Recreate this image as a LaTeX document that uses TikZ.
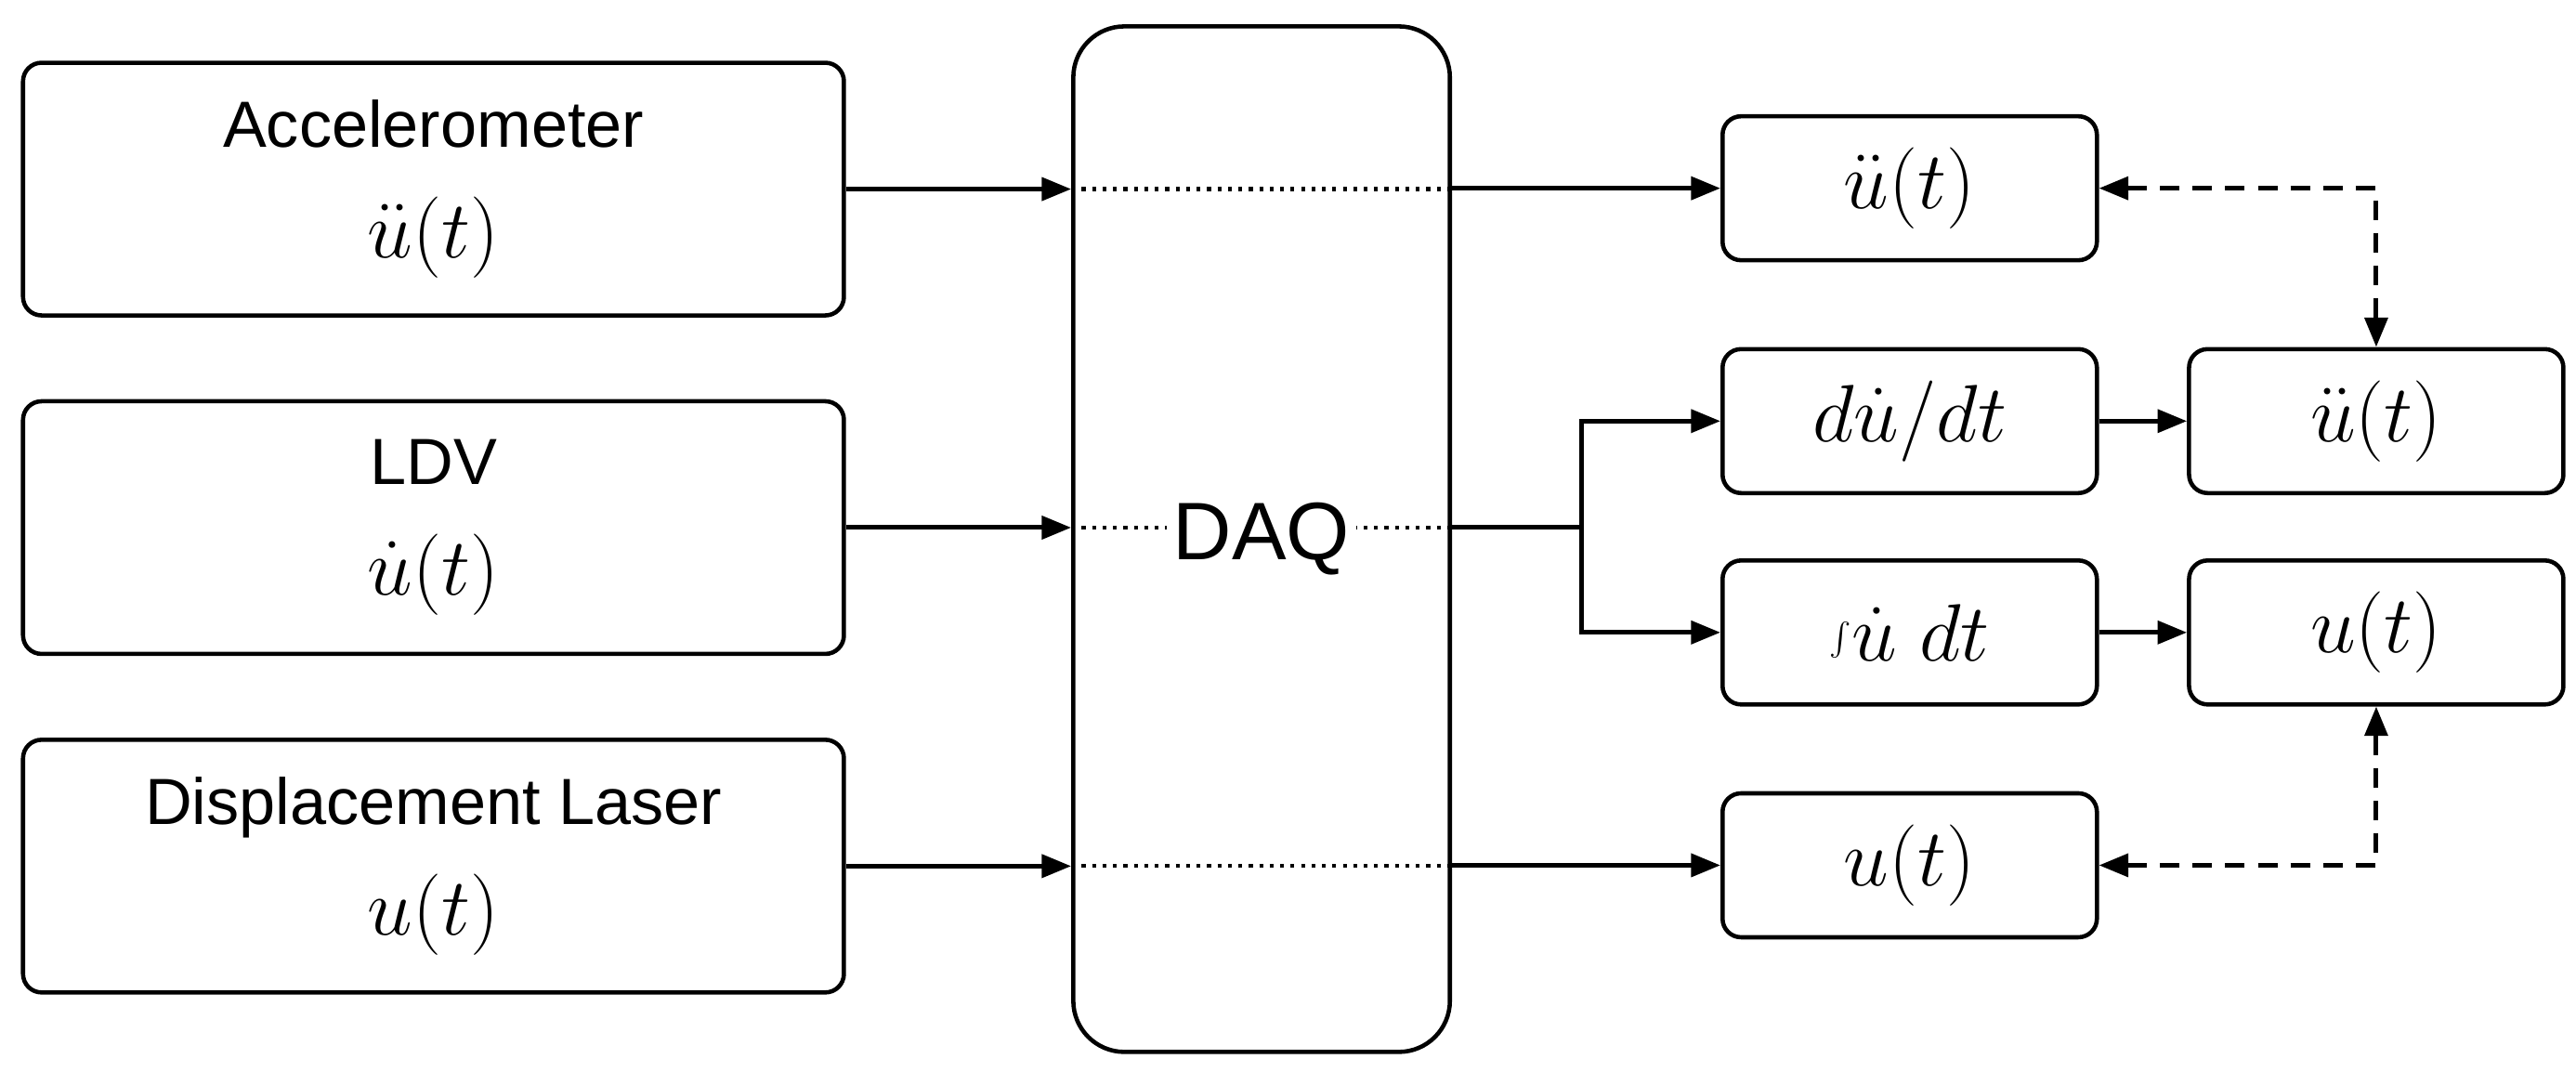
\documentclass[tikz,border=0pt]{standalone}
\usepackage{fontspec}
\setmainfont{Liberation Sans}
\usetikzlibrary{arrows.meta}
\newcommand{\mm}[1]{{\fontsize{24}{28}\selectfont$#1$}}
\begin{document}
\begin{tikzpicture}[x=0.01778cm,y=-0.01778cm,
  box/.style={draw,line width=1.3pt,rounded corners=0.2cm,align=center,inner sep=0pt,font=\fontsize{20}{30}\selectfont},
  big/.style={box,minimum width=8.837cm,minimum height=2.72cm},
  sm/.style={box,minimum width=4.03cm,minimum height=1.55cm},
  arr/.style={line width=1.4pt,-{Triangle[length=9pt,width=7pt]}},
  dasharr/.style={line width=1.4pt,dash pattern=on 6pt off 4pt,{Triangle[length=9pt,width=7pt]}-{Triangle[length=9pt,width=7pt]}},
  dot/.style={line width=1.2pt,dotted}]
\useasboundingbox (0,0) rectangle (1560,649);
\node[big] (acc) at (262.5,114.5) {Accelerometer\\[4pt]\mm{\ddot u(t)}};
\node[big] (ldv) at (262.5,319.5) {LDV\\[4pt]\mm{\dot u(t)}};
\node[big] (dis) at (262.5,524.5) {Displacement Laser\\[4pt]\mm{u(t)}};
\node[box,rounded corners=0.55cm,minimum width=4.054cm,minimum height=11.04cm] (daq) at (764,326.5) {};
\node[sm] (a1) at (1156.5,114) {\mm{\ddot u(t)}};
\node[sm] (dv) at (1156.5,255) {\mm{d\dot u/dt}};
\node[sm] (in) at (1156.5,383) {\mm{{\textstyle\int} \dot u\; dt}};
\node[sm] (u1) at (1156.5,524) {\mm{u(t)}};
\node[sm] (a2) at (1439,255) {\mm{\ddot u(t)}};
\node[sm] (u2) at (1439,383) {\mm{u(t)}};
% inputs
\draw[arr] (acc.east) -- (acc.east -| daq.west);
\draw[arr] (ldv.east) -- (ldv.east -| daq.west);
\draw[arr] (dis.east) -- (dis.east -| daq.west);
\draw[dot] (acc.east -| daq.west) -- (acc.east -| daq.east);
\draw[dot] (ldv.east -| daq.west) -- (ldv.east -| daq.east);
\draw[dot] (dis.east -| daq.west) -- (dis.east -| daq.east);
\node[fill=white,inner sep=2pt,font=\fontsize{25}{30}\selectfont] (lbl) at (daq.center) {DAQ};
% outputs
\draw[arr] (a1.west -| daq.east) -- (a1.west);
\draw[arr] (u1.west -| daq.east) -- (u1.west);
\coordinate (br) at (958,319.5);
\draw[line width=1.4pt] (ldv.east -| daq.east) -- (br);
\draw[arr] (br) |- (dv.west);
\draw[arr] (br) |- (in.west);
\draw[arr] (dv) -- (a2);
\draw[arr] (in) -- (u2);
\draw[dasharr] (a1.east) -| (a2.north);
\draw[dasharr] (u1.east) -| (u2.south);
\end{tikzpicture}
\end{document}
